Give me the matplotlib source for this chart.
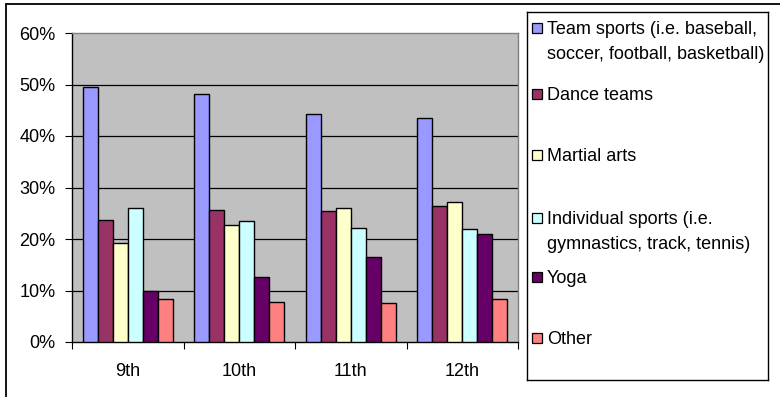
import matplotlib.pyplot as plt
from matplotlib.patches import Rectangle
from matplotlib.ticker import FuncFormatter, FixedLocator
import numpy as np

plt.rcParams['font.family'] = ['Liberation Sans', 'DejaVu Sans']
plt.rcParams['font.size'] = 13

grades = ['9th', '10th', '11th', '12th']
labels = ['Team sports (i.e. baseball,\nsoccer, football, basketball)',
          'Dance teams',
          'Martial arts',
          'Individual sports (i.e.\ngymnastics, track, tennis)',
          'Yoga',
          'Other']
team = [49.5, 48.2, 44.2, 43.4]
dance = [23.6, 25.6, 25.4, 26.5]
martial = [19.3, 22.7, 26.0, 27.2]
individual = [26.0, 23.5, 22.2, 21.9]
yoga = [10.0, 12.6, 16.6, 20.9]
other = [8.3, 7.7, 7.5, 8.3]
series = [team, dance, martial, individual, yoga, other]
colors = ['#9999FF', '#993366', '#FFFFCC', '#CCFFFF', '#660066', '#FF8080']

W, H = 780, 397
fig = plt.figure(figsize=(W / 100, H / 100), dpi=100)

# outer chart border (only top and left visible in the crop)
fig.patches.append(Rectangle((6 / W, -0.1), 1.2, 1 - 4 / H + 0.1,
                             transform=fig.transFigure, fill=False,
                             edgecolor='black', linewidth=1.3))

ax = fig.add_axes([72 / W, 1 - 342 / H, (518 - 72) / W, (342 - 33) / H])
ax.set_facecolor('#C0C0C0')

x = np.arange(len(grades))
bw = 0.1345
for i, (vals, c) in enumerate(zip(series, colors)):
    ax.bar(x + (i - 2.5) * bw, vals, bw, color=c, edgecolor='black',
           linewidth=1.0, zorder=3)

ax.set_xlim(-0.5, len(grades) - 0.5)
ax.set_ylim(0, 60)
ax.set_yticks(np.arange(0, 61, 10))
ax.yaxis.set_major_formatter(FuncFormatter(lambda v, p: f'{v:.0f}%'))
for yv in range(10, 60, 10):
    ax.axhline(yv, color='black', linewidth=0.9, zorder=1)

ax.xaxis.set_major_locator(FixedLocator(np.arange(-0.5, len(grades), 1)))
ax.xaxis.set_minor_locator(FixedLocator(x))
ax.set_xticklabels([])
ax.set_xticklabels(grades, minor=True)
ax.tick_params(axis='x', which='major', length=5, direction='out', color='black')
ax.tick_params(axis='x', which='minor', length=0, pad=15)
ax.tick_params(axis='y', length=5, direction='out', pad=7)

for s in ['top', 'right']:
    ax.spines[s].set_color('#808080')
    ax.spines[s].set_linewidth(1.0)
for s in ['left', 'bottom']:
    ax.spines[s].set_color('black')
    ax.spines[s].set_linewidth(1.0)

# legend box drawn by hand to follow the Excel layout
lg = fig.add_axes([527 / W, 1 - 380 / H, (768 - 527) / W, (380 - 12) / H])
lg.set_xlim(527, 768)
lg.set_ylim(380, 12)
lg.set_xticks([])
lg.set_yticks([])
for s in lg.spines.values():
    s.set_linewidth(1.0)
    s.set_color('black')
entry_y = [28, 94, 155, 218, 277, 338]
for lab, c, yy in zip(labels, colors, entry_y):
    lg.add_patch(Rectangle((532, yy - 5), 10, 10, facecolor=c,
                           edgecolor='black', linewidth=0.9))
    lg.text(547, yy - 7, lab, va='top', ha='left', linespacing=1.6)

fig.savefig('out.png', dpi=100)
